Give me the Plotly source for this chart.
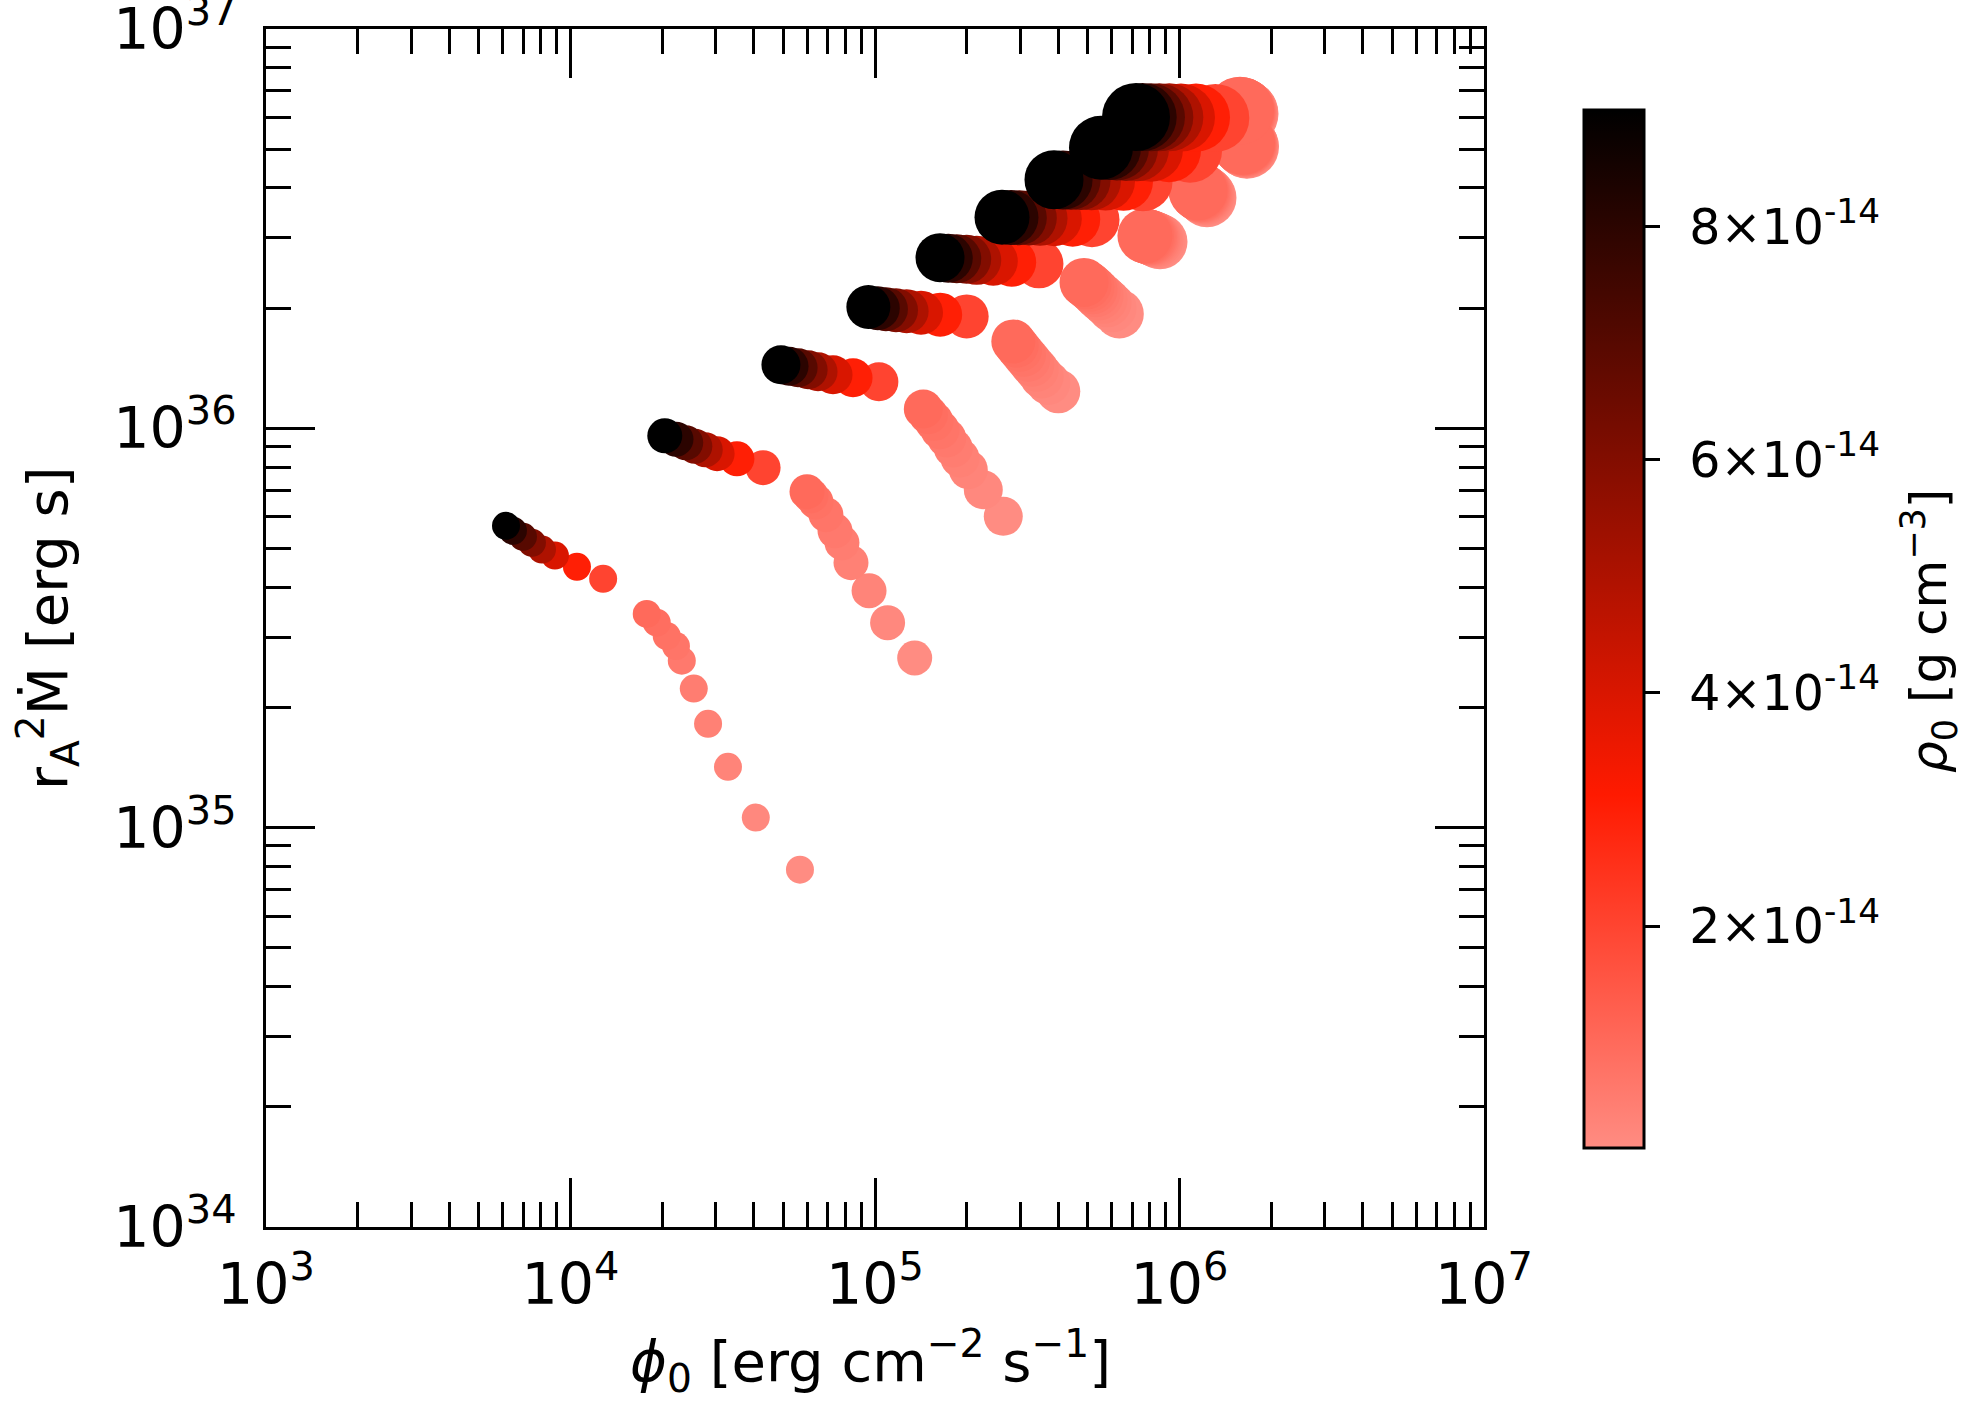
import plotly.graph_objects as go

# density of each point along a sequence: 8 high values, then 10 low values
rho_high = [9e-14, 8e-14, 7e-14, 6e-14, 5e-14, 4e-14, 3e-14, 2e-14]
rho_low = [1.0e-14, 0.9e-14, 0.8e-14, 0.7e-14, 0.6e-14, 0.5e-14, 0.4e-14, 0.3e-14, 0.2e-14, 0.1e-14]

# phi_0 [erg cm^-2 s^-1] and r_A^2 Mdot [erg s], one sequence per list
phi_1 = [6.14e3, 6.47e3, 6.98e3, 7.47e3, 8.06e3, 8.89e3, 1.05e4, 1.28e4,
         1.78e4, 1.92e4, 2.07e4, 2.22e4, 2.32e4, 2.54e4, 2.83e4, 3.29e4, 4.06e4, 5.67e4]
mdot_1 = [5.70e35, 5.54e35, 5.35e35, 5.17e35, 4.97e35, 4.80e35, 4.50e35, 4.20e35,
          3.43e35, 3.26e35, 3.02e35, 2.85e35, 2.62e35, 2.23e35, 1.82e35, 1.42e35, 1.06e35, 7.85e34]

phi_2 = [2.04e4, 2.22e4, 2.39e4, 2.56e4, 2.77e4, 3.03e4, 3.52e4, 4.29e4,
         5.98e4, 6.16e4, 6.40e4, 6.90e4, 7.39e4, 7.79e4, 8.34e4, 9.56e4, 1.10e5, 1.35e5]
mdot_2 = [9.58e35, 9.39e35, 9.20e35, 9.02e35, 8.84e35, 8.64e35, 8.39e35, 7.97e35,
          6.94e35, 6.78e35, 6.55e35, 6.08e35, 5.54e35, 5.17e35, 4.61e35, 3.92e35, 3.26e35, 2.66e35]

phi_3 = [4.91e4, 5.22e4, 5.59e4, 6.03e4, 6.50e4, 7.28e4, 8.47e4, 1.03e5,
         1.441e5, 1.497e5, 1.562e5, 1.635e5, 1.720e5, 1.807e5, 1.901e5, 2.025e5, 2.268e5, 2.638e5]
mdot_3 = [1.443e36, 1.430e36, 1.418e36, 1.402e36, 1.386e36, 1.362e36, 1.339e36, 1.308e36,
          1.118e36, 1.082e36, 1.041e36, 9.92e35, 9.46e35, 8.93e35, 8.43e35, 7.88e35, 7.02e35, 6.02e35]

phi_4 = [9.51e4, 1.021e5, 1.086e5, 1.172e5, 1.270e5, 1.416e5, 1.637e5, 2.000e5,
         2.846e5, 2.920e5, 2.994e5, 3.086e5, 3.187e5, 3.285e5, 3.396e5, 3.527e5, 3.708e5, 3.999e5]
mdot_4 = [2.013e36, 1.999e36, 1.988e36, 1.976e36, 1.965e36, 1.948e36, 1.926e36, 1.907e36,
          1.651e36, 1.611e36, 1.573e36, 1.529e36, 1.485e36, 1.443e36, 1.402e36, 1.349e36, 1.299e36, 1.238e36]

phi_5 = [1.635e5, 1.740e5, 1.855e5, 2.000e5, 2.158e5, 2.446e5, 2.811e5, 3.455e5,
         4.858e5, 4.969e5, 5.083e5, 5.200e5, 5.319e5, 5.441e5, 5.609e5, 5.781e5, 6.003e5, 6.344e5]
mdot_5 = [2.675e36, 2.667e36, 2.659e36, 2.652e36, 2.636e36, 2.621e36, 2.606e36, 2.583e36,
          2.319e36, 2.288e36, 2.256e36, 2.224e36, 2.186e36, 2.148e36, 2.105e36, 2.063e36, 2.004e36, 1.934e36]

phi_6 = [2.613e5, 2.796e5, 2.978e5, 3.212e5, 3.483e5, 3.880e5, 4.460e5, 5.161e5,
         7.70e5, 7.79e5, 7.88e5, 7.97e5, 8.06e5, 8.15e5, 8.25e5, 8.37e5, 8.50e5, 8.63e5]
mdot_6 = [3.379e36, 3.373e36, 3.369e36, 3.364e36, 3.356e36, 3.350e36, 3.341e36, 3.331e36,
          3.035e36, 3.027e36, 3.018e36, 3.010e36, 3.001e36, 2.989e36, 2.979e36, 2.967e36, 2.950e36, 2.933e36]

phi_7 = [3.871e5, 4.145e5, 4.403e5, 4.749e5, 5.140e5, 5.715e5, 6.549e5, 7.589e5,
         1.150e6, 1.159e6, 1.167e6, 1.176e6, 1.185e6, 1.194e6, 1.203e6, 1.212e6, 1.222e6, 1.231e6]
mdot_7 = [4.195e36, 4.186e36, 4.180e36, 4.175e36, 4.168e36, 4.161e36, 4.154e36, 4.146e36,
          3.936e36, 3.922e36, 3.906e36, 3.891e36, 3.877e36, 3.862e36, 3.846e36, 3.828e36, 3.806e36, 3.780e36]

phi_8 = [5.523e5, 5.867e5, 6.233e5, 6.673e5, 7.251e5, 8.058e5, 9.238e5, 1.083e6,
         1.616e6, 1.621e6, 1.627e6, 1.632e6, 1.638e6, 1.643e6, 1.649e6, 1.655e6, 1.660e6, 1.666e6]
mdot_8 = [5.043e36, 5.032e36, 5.020e36, 5.009e36, 4.997e36, 4.986e36, 4.972e36, 4.957e36,
          5.190e36, 5.177e36, 5.164e36, 5.151e36, 5.138e36, 5.125e36, 5.112e36, 5.099e36, 5.085e36, 5.072e36]

phi_9 = [7.197e5, 7.571e5, 8.058e5, 8.584e5, 9.259e5, 1.011e6, 1.133e6, 1.311e6,
         1.580e6, 1.586e6, 1.592e6, 1.598e6, 1.604e6, 1.610e6, 1.616e6, 1.622e6, 1.628e6, 1.635e6]
mdot_9 = [6.02e36, 6.02e36, 6.01e36, 6.01e36, 6.01e36, 6.00e36, 6.00e36, 5.99e36,
          6.244e36, 6.232e36, 6.220e36, 6.208e36, 6.196e36, 6.184e36, 6.172e36, 6.160e36, 6.148e36, 6.137e36]

phi_sets = [phi_1, phi_2, phi_3, phi_4, phi_5, phi_6, phi_7, phi_8, phi_9]
mdot_sets = [mdot_1, mdot_2, mdot_3, mdot_4, mdot_5, mdot_6, mdot_7, mdot_8, mdot_9]

# tick labels
x_ticks = [1e3, 1e4, 1e5, 1e6, 1e7]
x_labels = ["10<sup>3</sup>", "10<sup>4</sup>", "10<sup>5</sup>", "10<sup>6</sup>", "10<sup>7</sup>"]
y_ticks = [1e34, 1e35, 1e36, 1e37]
y_labels = ["10<sup>34</sup>", "10<sup>35</sup>", "10<sup>36</sup>", "10<sup>37</sup>"]
cb_ticks = [2e-14, 4e-14, 6e-14, 8e-14]
cb_labels = ["\u2009\u20092\u00d710<sup>-14</sup>", "\u2009\u20094\u00d710<sup>-14</sup>",
             "\u2009\u20096\u00d710<sup>-14</sup>", "\u2009\u20098\u00d710<sup>-14</sup>"]

# marker diameter (px) per sequence
marker_px = [28, 35, 39, 44, 49, 55, 59, 64, 68]

rho_seq = rho_high + rho_low
pts = []
for k in range(len(phi_sets)):
    for j in range(len(rho_seq)):
        pts.append((rho_seq[j], k, phi_sets[k][j], mdot_sets[k][j], marker_px[k]))
# low density drawn first, high density on top
pts.sort(key=lambda p: (p[0], p[1]))

FONT = "DejaVu Sans"
cmin, cmax = 1e-15, 9e-14
scale = [[0.0, "#FF8C82"], [0.34, "#FF1A00"], [1.0, "#000000"]]

fig = go.Figure()
fig.add_trace(go.Scatter(
    x=[p[2] for p in pts],
    y=[p[3] for p in pts],
    mode="markers",
    marker=dict(
        size=[p[4] for p in pts],
        color=[p[0] for p in pts],
        colorscale=scale, cmin=cmin, cmax=cmax,
        line=dict(width=0), opacity=1,
        colorbar=dict(
            x=0.7762, xanchor="left", xpad=0,
            y=0.49937, yanchor="middle", len=0.86686, lenmode="fraction", ypad=0,
            thickness=60, thicknessmode="pixels",
            outlinewidth=3, outlinecolor="black",
            tickmode="array", tickvals=cb_ticks, ticktext=cb_labels,
            ticks="outside", ticklen=15, tickwidth=3, tickcolor="black",
            tickfont=dict(family=FONT, size=49, color="black"),
        ),
    ),
    hoverinfo="skip",
    showlegend=False,
))

x_minor = [m * 10.0 ** e for e in range(3, 7) for m in range(2, 10)]
y_minor = [m * 10.0 ** e for e in range(34, 37) for m in range(2, 10)]

axis_common = dict(
    type="log", showline=True, linewidth=3, linecolor="black", mirror="allticks",
    ticks="inside", ticklen=49, tickwidth=2.5, tickcolor="black",
    showgrid=False, zeroline=False, tickmode="array", automargin=False,
    ticklabeloverflow="allow",
    tickfont=dict(family=FONT, size=57, color="black"),
)

fig.update_layout(
    width=1964, height=1401,
    margin=dict(l=266, r=0, t=29, b=174, autoexpand=False),
    paper_bgcolor="white", plot_bgcolor="white",
    font=dict(family=FONT, color="black"),
    xaxis=dict(axis_common, range=[3, 7.000001], domain=[0, 0.71731],
               tickvals=x_ticks, ticktext=x_labels, ticklabelstandoff=6,
               minor=dict(ticks="inside", ticklen=25, tickwidth=2.5, tickcolor="black",
                          tickvals=x_minor, showgrid=False)),
    yaxis=dict(axis_common, range=[34, 37.000001], domain=[0, 1],
               tickvals=y_ticks, ticktext=y_labels, ticklabelstandoff=15,
               minor=dict(ticks="inside", ticklen=25, tickwidth=2.5, tickcolor="black",
                          tickvals=y_minor, showgrid=False)),
    # helper axis that draws the minor ticks of the colour bar
    xaxis2=dict(domain=[0.7762, 0.81154], anchor="y2", visible=False, range=[0, 1],
                automargin=False),
    yaxis2=dict(domain=[0.06594, 0.9328], anchor="x2", side="right", range=[cmin, cmax],
                showline=False, showgrid=False, zeroline=False, showticklabels=False,
                automargin=False,
                ticks="", minor=dict(ticks="outside", ticklen=9, tickwidth=2.5,
                                     tickcolor="black", dtick=0.5e-14, tick0=0,
                                     showgrid=False)),
    annotations=[
        dict(text="<i>\u03d5</i><sub>0</sub> [erg cm<sup>\u22122</sup> s<sup>\u22121</sup>]",
             xref="paper", yref="paper", x=0.356, y=-0.1115,
             xanchor="center", yanchor="middle", showarrow=False,
             font=dict(family=FONT, size=56, color="black")),
        dict(text="r<sub>A</sub><sup>2</sup>\u1e40 [erg s]",
             xref="paper", yref="paper", x=-0.1284, y=0.5, textangle=-90,
             xanchor="center", yanchor="middle", showarrow=False,
             font=dict(family=FONT, size=56, color="black")),
        dict(text="<i>\u03c1</i><sub>0</sub> [g cm<sup>\u22123</sup>]",
             xref="paper", yref="paper", x=0.9794, y=0.4975, textangle=-90,
             xanchor="center", yanchor="middle", showarrow=False,
             font=dict(family=FONT, size=50, color="black")),
    ],
)

# drop the default page margin so the figure fills the window exactly
fig.write_html("out.html", config={"displayModeBar": False},
               post_script="document.body.style.margin='0px';")
